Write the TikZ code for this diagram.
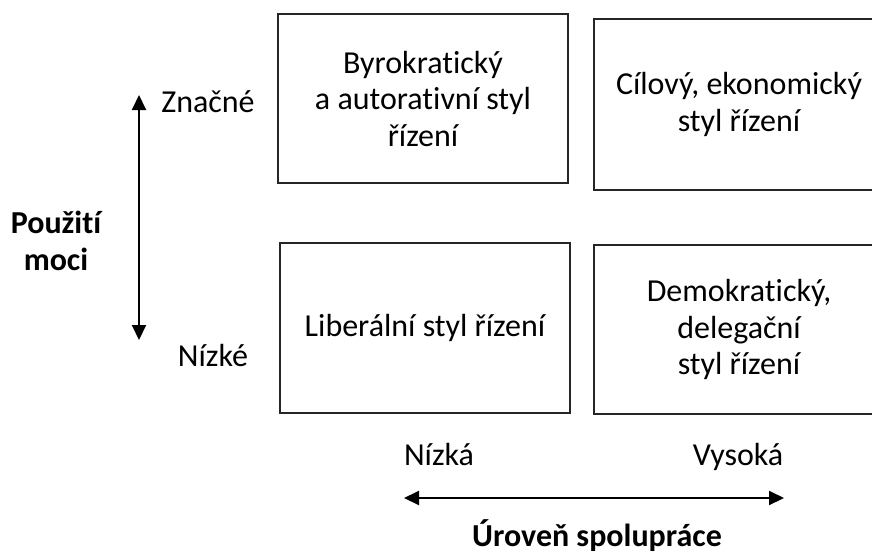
\documentclass[tikz,border=0pt]{standalone}
\usepackage{fontspec}
\setmainfont{Carlito}[RawFeature={-liga;-clig;-calt;-dlig}]
\usetikzlibrary{arrows.meta}
\begin{document}
\begin{tikzpicture}[x=1pt,y=-1pt,
  quad/.style={draw=black!85,line width=1.3pt,rectangle,align=center,inner sep=0pt,
    font=\fontsize{32}{36.5}\selectfont},
  lbl/.style={font=\fontsize{32}{36.5}\selectfont,inner sep=0pt,anchor=base},
  blbl/.style={font=\fontsize{32}{37}\selectfont\bfseries,inner sep=0pt,anchor=base},
  axis/.style={line width=2pt,{Triangle[width=14pt,length=15pt]}-{Triangle[width=14pt,length=15pt]}}]
\useasboundingbox (0,0) rectangle (872,554);
\clip (0,0) rectangle (872,554);
\node[quad,minimum width=290pt,minimum height=169pt] (tl) at (423,98.5) {Byrokratický\\a autorativní styl\\řízení};
\node[quad,minimum width=290pt,minimum height=171pt] (tr) at (739,104.5) {Cílový, ekonomický\\styl řízení};
\node[quad,minimum width=290pt,minimum height=170pt] (bl) at (425,328) {Liberální styl řízení};
\node[quad,minimum width=290pt,minimum height=169pt] (br) at (739,329.5) {Demokratický,\\delegační\\styl řízení};
\node[lbl] (zn) at (208,112) {Značné};
\node[lbl] (nz) at (213,366) {Nízké};
\node[blbl] (pm1) at (56,233) {Použití};
\node[blbl] (pm2) at (56,270) {moci};
\node[lbl] (nka) at (439,465) {Nízká};
\node[lbl] (vys) at (738,465) {Vysoká};
\node[blbl] (us) at (597,546) {Úroveň spolupráce};
\coordinate (vt) at (139,95);
\coordinate (vb) at (139,340);
\coordinate (hl) at (404,498);
\coordinate (hr) at (784,498);
\draw[axis] (vt) -- (vb);
\draw[axis] (hl) -- (hr);
\end{tikzpicture}
\end{document}
